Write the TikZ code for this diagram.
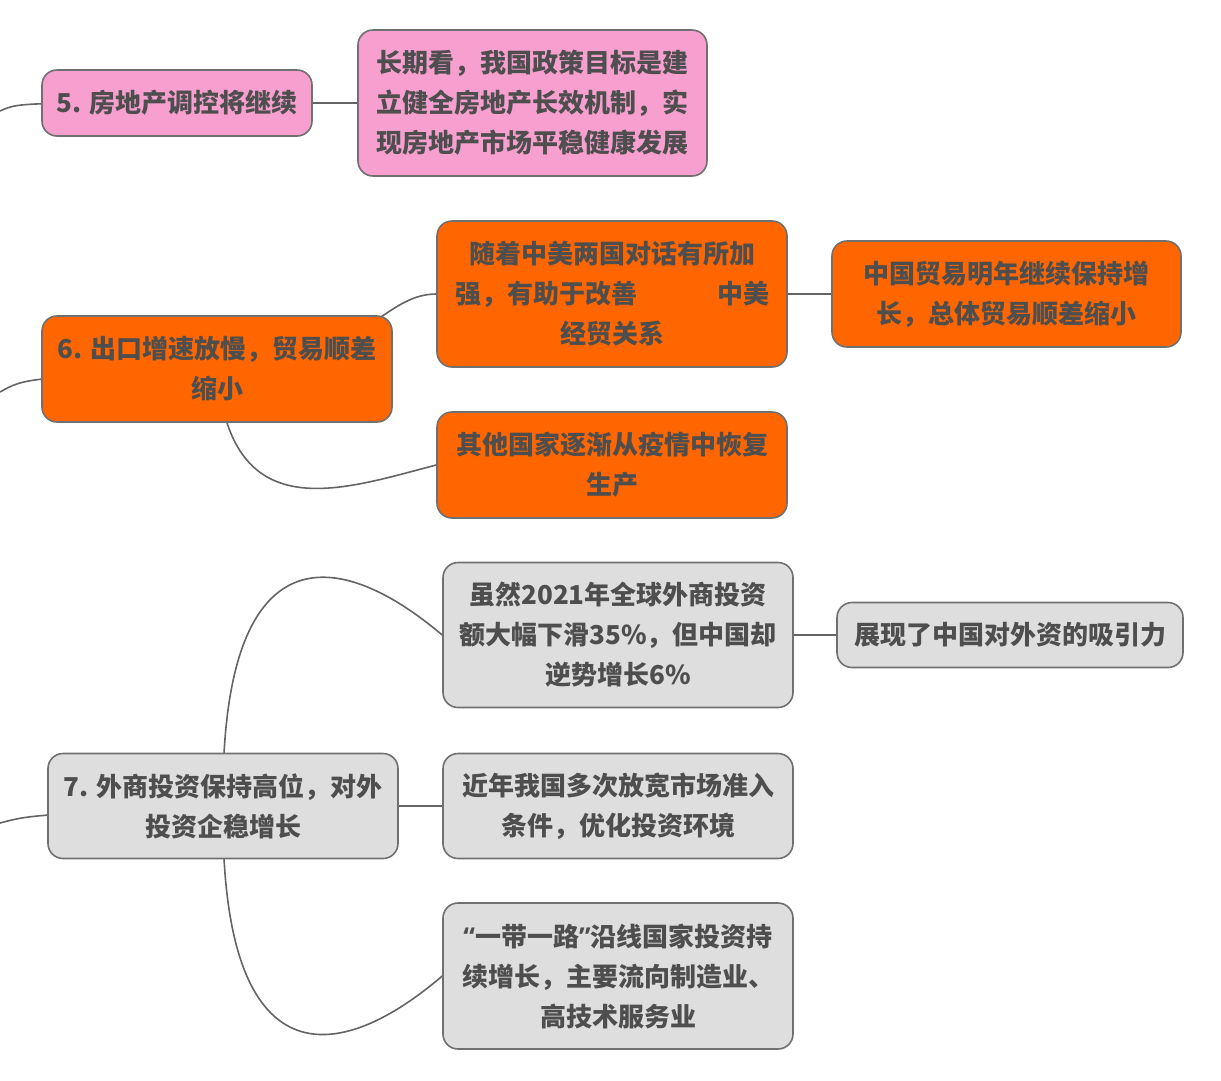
\documentclass[tikz,border=0pt]{standalone}
\usepackage{fontspec}
\setmainfont{Noto Sans CJK SC}
\newfontfamily\quotefont{Open Sans}
\usetikzlibrary{backgrounds}
\definecolor{MapPink}{RGB}{247,160,208}
\definecolor{MapOrange}{RGB}{255,102,0}
\definecolor{MapGrey}{RGB}{222,222,222}
\definecolor{MapBorder}{RGB}{112,112,112}
\definecolor{MapText}{RGB}{78,78,78}
\definecolor{MapLine}{RGB}{100,100,100}

\begin{document}
\begin{tikzpicture}[x=1pt, y=-1pt,
    topic/.style={draw=MapBorder, line width=1.6pt, rounded corners=15pt,
        text=MapText, font=\fontsize{26}{40}\selectfont\bfseries,
        align=center, inner sep=0pt},
    size/.style 2 args={minimum width=#1, minimum height=#2},
    link/.style={draw=MapLine, line width=1.6pt}]

        \useasboundingbox (0,0) rectangle (1221,1080);

        % Section 5 (pink)
        \node[topic, fill=MapPink, size={270pt}{66pt}] (b5) at (177,103) {5. 房地产调控将继续};
        \node[topic, fill=MapPink, size={349pt}{146pt}] (b5a) at (532.5,103)
            {长期看，我国政策目标是建\\立健全房地产长效机制，实\\现房地产市场平稳健康发展};

        % Section 6 (orange)
        \node[topic, fill=MapOrange, size={350pt}{106pt}] (b6) at (217,369)
            {6. 出口增速放慢，贸易顺差\\缩小};
        \node[topic, fill=MapOrange, size={350pt}{146pt}] (b6a) at (612,294)
            {随着中美两国对话有所加\\\makebox[314pt]{强，有助于改善\hfill 中美}\\经贸关系};
        \node[topic, fill=MapOrange, size={349pt}{106pt}] (b6b) at (1006.5,294)
            {中国贸易明年继续保持增\\长，总体贸易顺差缩小};
        \node[topic, fill=MapOrange, size={350pt}{106pt}] (b6c) at (612,465)
            {其他国家逐渐从疫情中恢复\\生产};

        % Section 7 (grey)
        \node[topic, fill=MapGrey, size={350pt}{105pt}] (b7) at (223,806)
            {7. 外商投资保持高位，对外\\投资企稳增长};
        \node[topic, fill=MapGrey, size={350pt}{145pt}] (b7a) at (618,635)
            {虽然2021年全球外商投资\\额大幅下滑35\%，但中国却\\逆势增长6\%};
        \node[topic, fill=MapGrey, size={346pt}{65pt}] (b7b) at (1010,635)
            {展现了中国对外资的吸引力};
        \node[topic, fill=MapGrey, size={350pt}{105pt}] (b7c) at (618,806)
            {近年我国多次放宽市场准入\\条件，优化投资环境};
        \node[topic, fill=MapGrey, size={350pt}{146pt}] (b7d) at (618,976)
            {{\quotefont\bfseries “}一带一路{\quotefont\bfseries ”}沿线国家投资持\\续增长，主要流向制造业、\\高技术服务业};

        % loose ends on the left border
        \coordinate (in5) at (0,111);
        \coordinate (in6) at (0,392);
        \coordinate (in7) at (0,823);

        % Straight links
        \foreach \from/\to in {b5/b5a, b6a/b6b, b7/b7c, b7a/b7b}
            \draw[link] (\from.east) -- (\to.west);

        % Curved links, behind the boxes
        \begin{scope}[on background layer]
            \draw[link] (in5) .. controls (18,103) .. (b5.center);
            \draw[link] (in6) .. controls (25,378) .. (b6.center);
            \draw[link] (in7) .. controls (30,815) .. (b7.center);
            \draw[link] (b6.center) .. controls (360,369) and (380,294) .. (b6a.west);
            \draw[link] (b6.center) .. controls (230,530) and (340,490) .. (b6c.west);
            \draw[link] (b7.center) .. controls (220,540) and (330,540) .. (b7a.west);
            \draw[link] (b7.center) .. controls (220,1072) and (330,1072) .. (b7d.west);
        \end{scope}

\end{tikzpicture}
\end{document}
